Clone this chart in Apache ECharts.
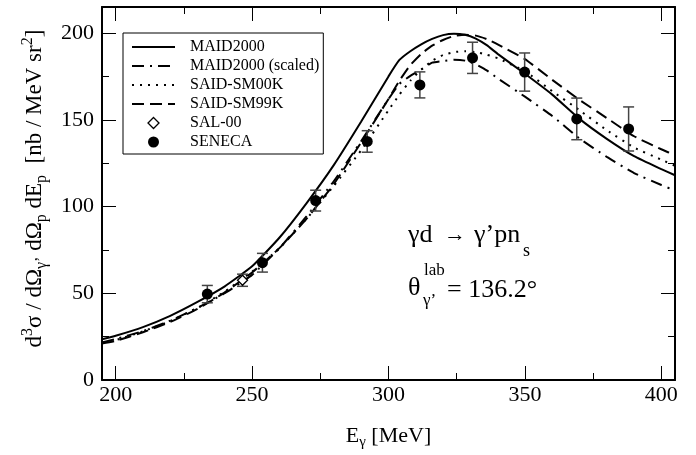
<!DOCTYPE html>
<html><head><meta charset="utf-8">
<script src="https://cdn.jsdelivr.net/npm/echarts@6/dist/echarts.min.js"></script>
<style>html,body{margin:0;padding:0;background:#fff}#c{width:696px;height:455px}</style>
</head><body><div id="c"></div>
<script>
// ---- data ----
const energy = [195,200,210,220,230,240,250,260,270,280,290,300,304,308,312,316,320,324,328,332,336,340,350,360,370,380,390,400,405];
const maid2000 = [23.5,25.5,30.5,37,45,54,65.5,82,102,124,149,175,184.5,189.5,193.5,196.6,198.8,199.6,199,196.8,193,188,176.5,164.5,150.5,139,129,121.5,118];
const maid2000Scaled = [21.7,23.6,28.2,34.2,41.6,50,60.6,75.9,94.4,114.7,137.8,161.9,170.7,175.3,179,182.9,183.9,184.6,184.1,182,178.5,173.9,163.3,152.2,139.2,128.6,119.3,112.4,109.2];
const saidSM00K = [21.5,23,28,34,41.5,51,62.5,76,93,112,132.5,155.5,164.5,172.5,179,184,187.3,189,189.5,189,187.5,185.5,178,166.5,155.5,144,134,127,123.5];
const saidSM99K = [21,22.5,27.5,33.5,41,50.5,62,76,93,113,137,162,172.5,181.5,188,192.7,196,198.3,199,198.5,196.5,193.5,185,173,161.5,151,140.5,133,129.5];

const senecaE = [233.6,253.8,273.3,292.2,311.5,330.8,349.9,369.0,388.0];
const senecaV = [49.5,67.6,103.4,137.5,170.1,185.7,177.5,150.5,144.7];
const senecaErr = [5,5.4,6,6.2,7.5,9,11,12,12.7];
const salE = [246.5];
const salV = [57.5];
const salErr = [3.5];

const xMajor = [200,250,300,350,400];
const xMinor = [225,275,325,375];
const yMajor = [0,50,100,150,200];
const yMinor = [25,75,125,175];

// ---- chart ----
const FONT = "'Liberation Serif','Times New Roman',serif";
const pair = (xs, ys) => xs.map((x,i)=>[x, ys[i]]);
const errData = (xs, ys, es) => xs.map((x,i)=>[x, ys[i]-es[i], ys[i]+es[i]]);

function xAx(pos, vals, len, main){
  return {type:'value', min:195, max:405, position:pos,
    axisLine:{show:main, onZero:false, lineStyle:{color:'#000', width:2}},
    axisTick:{show:true, inside:true, length:len, customValues:vals, lineStyle:{color:'#000', width:1}},
    axisLabel:{show:(main && pos==='bottom'), customValues:vals, fontFamily:FONT, fontSize:22, color:'#000', margin:4},
    splitLine:{show:false}};
}
function yAx(pos, vals, len, main){
  return {type:'value', min:0, max:215, position:pos,
    axisLine:{show:main, onZero:false, lineStyle:{color:'#000', width:2}},
    axisTick:{show:true, inside:true, length:len, customValues:vals, lineStyle:{color:'#000', width:1}},
    axisLabel:{show:(main && pos==='left'), customValues:vals, fontFamily:FONT, fontSize:22, color:'#000', margin:8},
    splitLine:{show:false}};
}
const xAxes = [xAx('bottom', xMajor, 14, true), xAx('bottom', xMinor, 7, false), xAx('top', xMajor, 14, true), xAx('top', xMinor, 7, false)];
Object.assign(xAxes[0], {name:'{m|E}{sb|γ}{m| [MeV]}', nameLocation:'middle', nameGap:42,
  nameTextStyle:{rich:{m:{fontFamily:FONT, fontSize:22, lineHeight:28, color:'#000'}, sb:{fontFamily:FONT, fontSize:15, lineHeight:15, verticalAlign:'bottom', color:'#000'}}}});
const yAxes = [yAx('left', yMajor, 14, true), yAx('left', yMinor, 7, false), yAx('right', yMajor, 14, true), yAx('right', yMinor, 7, false)];
Object.assign(yAxes[0], {name:'{m|d}{sp|3}{m|σ / dΩ}{sb|γ’}{m| dΩ}{sb|p}{m| dE}{sb|p}{m|  [nb / MeV sr}{sp|2}{m|]}',
  nameLocation:'middle', nameRotate:90, nameGap:48,
  nameTextStyle:{padding:[0,0,0,10], rich:{
    m:{fontFamily:FONT, fontSize:23, lineHeight:30, color:'#000'},
    sp:{fontFamily:FONT, fontSize:16, lineHeight:15, verticalAlign:'top', color:'#000'},
    sb:{fontFamily:FONT, fontSize:16, lineHeight:15, verticalAlign:'bottom', color:'#000'}}}});

function lineSeries(name, vals, type){
  return {name, type:'line', data:pair(energy, vals), symbol:'none', smooth:0.15,
    lineStyle:{color:'#000', width:2, type}, itemStyle:{color:'#000'}, z:2, silent:true};
}
function errSeries(xs, ys, es){
  return {type:'custom', data:errData(xs, ys, es), z:3, silent:true,
    encode:{x:0, y:[1,2]},
    renderItem:(params, api)=>{
      const lo = api.coord([api.value(0), api.value(1)]);
      const hi = api.coord([api.value(0), api.value(2)]);
      const w = 5.5;
      const st = {stroke:'#444', lineWidth:1.5};
      return {type:'group', children:[
        {type:'line', shape:{x1:lo[0], y1:lo[1], x2:hi[0], y2:hi[1]}, style:st},
        {type:'line', shape:{x1:lo[0]-w, y1:lo[1], x2:lo[0]+w, y2:lo[1]}, style:st},
        {type:'line', shape:{x1:hi[0]-w, y1:hi[1], x2:hi[0]+w, y2:hi[1]}, style:st}
      ]};
    }};
}
const hideSym = {opacity:0};
const DIAMOND = 'path://M5,0 L10,5 L5,10 L0,5 Z';

const option = {
  animation:false,
  backgroundColor:'#fff',
  grid:{left:102, right:21, top:7, bottom:72, containLabel:false},
  xAxis:xAxes,
  yAxis:yAxes,
  legend:{orient:'vertical', left:123, top:33, padding:[6,4,4,8], itemGap:3, itemWidth:43, itemHeight:11,
    symbolKeepAspect:true,
    borderColor:'#000', borderWidth:1, borderRadius:0, backgroundColor:'#fff',
    textStyle:{fontFamily:FONT, fontSize:16, color:'#000', padding:[0,0,0,10]},
    data:[{name:'MAID2000', itemStyle:hideSym},{name:'MAID2000 (scaled)', itemStyle:hideSym},
          {name:'SAID-SM00K', itemStyle:hideSym},{name:'SAID-SM99K', itemStyle:hideSym},
          {name:'SAL-00', icon:DIAMOND, itemStyle:{color:'#fff', borderColor:'#000', borderWidth:1.3}},{name:'SENECA'}]},
  series:[
    lineSeries('MAID2000', maid2000, 'solid'),
    lineSeries('MAID2000 (scaled)', maid2000Scaled, [12,6,2,6]),
    lineSeries('SAID-SM00K', saidSM00K, [2,6]),
    lineSeries('SAID-SM99K', saidSM99K, [12,6]),
    errSeries(senecaE, senecaV, senecaErr),
    errSeries(salE, salV, salErr),
    {name:'SAL-00', type:'scatter', data:pair(salE, salV), symbol:'diamond', symbolSize:10, symbolKeepAspect:true,
      itemStyle:{color:'#fff', borderColor:'#000', borderWidth:1.3, opacity:1}, z:4, silent:true},
    {name:'SENECA', type:'scatter', data:pair(senecaE, senecaV), symbol:'circle', symbolSize:11, symbolKeepAspect:true,
      itemStyle:{color:'#000', opacity:1}, z:4, silent:true}
  ],
  graphic:[
    {type:'text', x:408, y:235, style:{text:'γd', font:"26px "+FONT, fill:'#000', align:'left', verticalAlign:'middle'}},
    {type:'text', x:444, y:235, style:{text:'→', font:"22px "+FONT, fill:'#000', align:'left', verticalAlign:'middle'}},
    {type:'text', x:474, y:235, style:{text:'γ’pn', font:"26px "+FONT, fill:'#000', align:'left', verticalAlign:'middle'}},
    {type:'text', x:523, y:251, style:{text:'s', font:"18px "+FONT, fill:'#000', align:'left', verticalAlign:'middle'}},
    {type:'text', x:408, y:288, style:{text:'θ', font:"26px "+FONT, fill:'#000', align:'left', verticalAlign:'middle'}},
    {type:'text', x:424, y:271, style:{text:'lab', font:"17px "+FONT, fill:'#000', align:'left', verticalAlign:'middle'}},
    {type:'text', x:423, y:301, style:{text:'γ’', font:"17px "+FONT, fill:'#000', align:'left', verticalAlign:'middle'}},
    {type:'text', x:447, y:290, style:{text:'= 136.2°', font:"26px "+FONT, fill:'#000', align:'left', verticalAlign:'middle'}}
  ]
};
const chart = echarts.init(document.getElementById('c'), null, {renderer:'canvas'});
chart.setOption(option);
</script>
</body></html>
